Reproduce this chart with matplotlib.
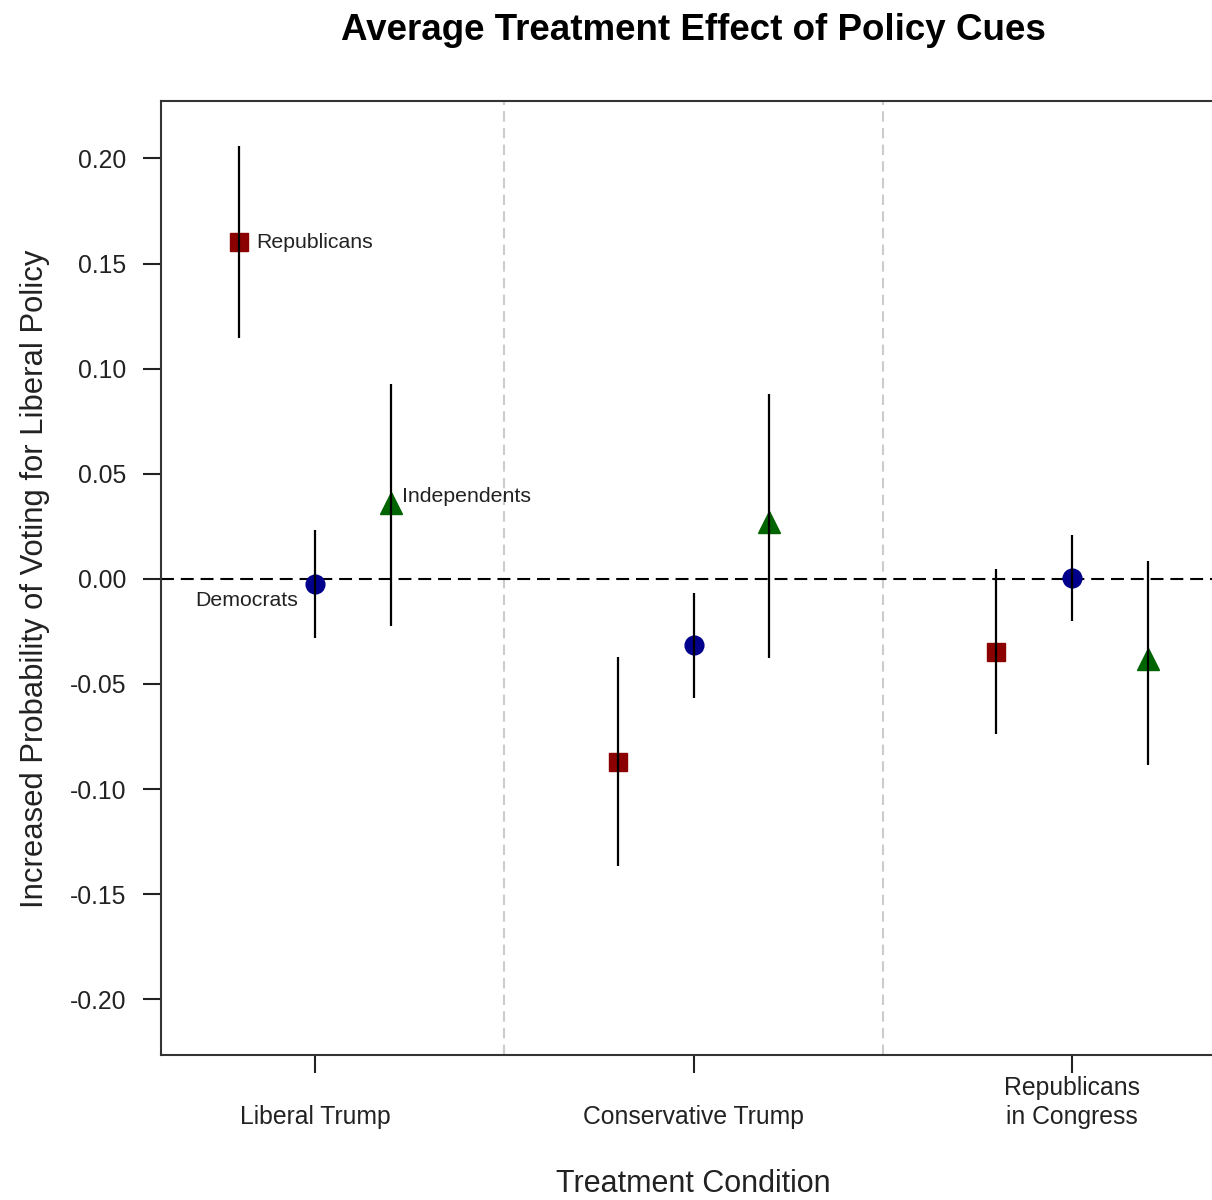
import matplotlib
matplotlib.use("Agg")
from matplotlib import pyplot as plt
import numpy as np

plt.rcParams["font.family"] = ["Liberation Sans", "DejaVu Sans"]

# Data
conditions = ["Liberal Trump", "Conservative Trump", "Republicans\nin Congress"]
groups = ["Republicans", "Democrats", "Independents"]
est = {
    "Republicans": [0.160, -0.087, -0.0347],
    "Democrats": [-0.0024, -0.0314, 0.0005],
    "Independents": [0.036, 0.027, -0.038],
}
lower = {
    "Republicans": [0.1146, -0.1365, -0.0737],
    "Democrats": [-0.0281, -0.0566, -0.0200],
    "Independents": [-0.0224, -0.0376, -0.0885],
}
upper = {
    "Republicans": [0.2060, -0.0371, 0.0048],
    "Democrats": [0.0233, -0.0067, 0.0209],
    "Independents": [0.0927, 0.0880, 0.0086],
}
yticks = [-0.20, -0.15, -0.10, -0.05, 0.00, 0.05, 0.10, 0.15, 0.20]

# Style
offsets = {"Republicans": -0.2, "Democrats": 0.0, "Independents": 0.2}
markers = {"Republicans": "s", "Democrats": "o", "Independents": "^"}
colors = {"Republicans": "#8b0000", "Democrats": "#00008b", "Independents": "#006400"}
msizes = {"Republicans": 13, "Democrats": 13.5, "Independents": 16}

fig = plt.figure(figsize=(12.12, 12), dpi=100)
ax = fig.add_axes([161/1212, 1 - 1055/1200, (1226 - 161)/1212, (1055 - 101)/1200])

xc = np.arange(1, len(conditions) + 1)
ax.axhline(0, color="black", lw=1.5, dashes=(6.2, 3.3), zorder=1)
for sep in xc[:-1] + 0.5:
    ax.axvline(sep, color="#cccccc", lw=1.5, dashes=(5, 3), zorder=0)

for g in groups:
    x = xc + offsets[g]
    ax.vlines(x, lower[g], upper[g], color="black", lw=1.6, zorder=4)
    ax.plot(x, est[g], linestyle="none", marker=markers[g], ms=msizes[g],
            color=colors[g], mec=colors[g], zorder=3)

# Labels next to the first condition
ax.annotate("Republicans", (1 + offsets["Republicans"], est["Republicans"][0]),
            xytext=(12, 0), textcoords="offset points", ha="left", va="center",
            fontsize=15.3, color="#222222")
ax.annotate("Independents", (1 + offsets["Independents"], est["Independents"][0]),
            xytext=(8, 5), textcoords="offset points", ha="left", va="center",
            fontsize=15.3, color="#222222")
ax.annotate("Democrats", (1 + offsets["Democrats"], est["Democrats"][0]),
            xytext=(-12, -12), textcoords="offset points", ha="right", va="center",
            fontsize=15.3, color="#222222")

ax.set_xlim(0.593, 3.407)
ax.set_ylim(-0.2265, 0.2273)
ax.set_yticks(yticks)
ax.set_yticklabels([f"{v:.2f}" for v in yticks])
ax.set_xticks(xc)
ax.set_xticklabels(conditions, linespacing=1.25)
for lbl in ax.get_xticklabels():
    lbl.set_verticalalignment("bottom")
ax.tick_params(axis="x", length=13, width=1.5, pad=40, labelsize=17.8, colors="#222222")
ax.tick_params(axis="y", length=13, width=1.5, pad=12, labelsize=17.8, colors="#222222")
for s in ["left", "bottom", "top", "right"]:
    ax.spines[s].set_linewidth(1.5)
    ax.spines[s].set_color("#333333")

fig.text(693/1212, 1 - 30/1200, "Average Treatment Effect of Policy Cues",
         ha="center", va="center", fontsize=26.5, fontweight="bold")
fig.text(693/1212, 1 - 1184/1200, "Treatment Condition",
         ha="center", va="center", fontsize=22, color="#222222")
fig.text(35/1212, 1 - 579/1200, "Increased Probability of Voting for Liberal Policy",
         ha="center", va="center", rotation=90, fontsize=22.3, color="#222222")

fig.savefig("out.png", dpi=100)
